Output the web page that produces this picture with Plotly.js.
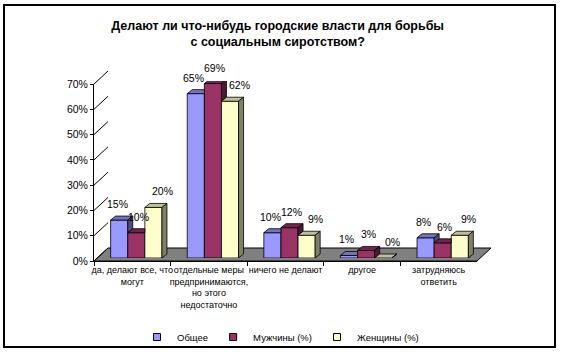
<!DOCTYPE html>
<html><head><meta charset="utf-8">
<script src="https://cdn.plot.ly/plotly-3.0.1.min.js"></script>
<style>html,body{margin:0;padding:0;background:#fff}#chart{width:561px;height:353px}</style>
</head><body><div id="chart"></div>
<script>
// ---- data ----
const categories = ["да, делают все, что<br>могут", "отдельные меры<br>предпринимаются,<br>но этого<br>недостаточно", "ничего не делают", "другое", "затрудняюсь<br>ответить"];
const seriesNames = ["Общее", "Мужчины (%)", "Женщины (%)"];
const totalValues = [15, 65, 10, 1, 8];
const menValues = [10, 69, 12, 3, 6];
const womenValues = [20, 62, 9, 0, 9];
const yTickValues = [0, 10, 20, 30, 40, 50, 60, 70];
const yTickLabels = ["0%", "10%", "20%", "30%", "40%", "50%", "60%", "70%"];
const titleLines = ["Делают ли что-нибудь городские власти для борьбы", "с социальным сиротством?"];

// ---- style / geometry ----
const W = 561, H = 353;
const FONT = '"Liberation Sans", Arial, sans-serif';
const frontColors = ['#9999FF', '#993366', '#FFFFCC'];
const topColors = ['#7373BF', '#73264D', '#BFBF99'];
const sideColors = ['#4D4D80', '#4D1A33', '#808066'];
const YMAX = 70;
const front = {x0: 94, x1: 477, y0: 261, y1: 84};
const wallShift = {dx: 14, dy: -13};
const barShift = {dx: 4, dy: -3};
const depth = {dx: 5, dy: 4};
const BARGAP = 0.33;
const px = v => v / W, py = v => 1 - v / H;
const shifted = s => ({x0: front.x0 + s.dx, x1: front.x1 + s.dx, y0: front.y0 + s.dy, y1: front.y1 + s.dy});
const back = shifted(wallShift), plane = shifted(barShift);
const nCat = categories.length;
const xr = [-0.5, nCat - 0.5];
const pxPerCat = (plane.x1 - plane.x0) / nCat;
const pxPerUnit = (plane.y0 - plane.y1) / YMAX;
const dX = depth.dx / pxPerCat, dY = depth.dy / pxPerUnit;

const series = [totalValues, menValues, womenValues];
const idx = categories.map((c, i) => i);

const traces = [];
traces.push({x: categories, y: categories.map(() => null), xaxis: 'x', yaxis: 'y', type: 'scatter', mode: 'markers',
  marker: {opacity: 0}, showlegend: false, hoverinfo: 'skip'});
series.forEach((vals, j) => {
  traces.push({type: 'bar', x: idx, y: vals, name: seriesNames[j], xaxis: 'x3', yaxis: 'y3',
    marker: {color: frontColors[j], line: {color: '#000', width: 0.8}}, showlegend: false, hoverinfo: 'skip'});
});
series.forEach((vals, j) => {
  traces.push({type: 'scatter', x: [null], y: [null], name: seriesNames[j], xaxis: 'x3', yaxis: 'y3', mode: 'markers',
    marker: {symbol: 'square', size: 7, color: frontColors[j], line: {color: '#000', width: 1}}, hoverinfo: 'skip'});
});

const shapes = [];
const f = front, b = back;
shapes.push({type: 'path', xref: 'paper', yref: 'paper', layer: 'below',
  path: `M${px(f.x0)},${py(f.y0)} L${px(f.x1)},${py(f.y0)} L${px(b.x1)},${py(b.y0)} L${px(b.x0)},${py(b.y0)} Z`,
  fillcolor: '#808080', line: {color: '#000', width: 1}});
yTickValues.forEach(t => {
  const fy = f.y0 - t * (f.y0 - f.y1) / YMAX;
  shapes.push({type: 'line', xref: 'paper', yref: 'paper', layer: 'below',
    x0: px(f.x0), y0: py(fy), x1: px(b.x0), y1: py(fy + wallShift.dy), line: {color: '#000', width: 1}});
});
const w = (1 - BARGAP) / 3;
const annotations = [];
const labelShift = [-2, 2, 9];
idx.forEach(i => {
  series.forEach((vals, j) => {
    const v = vals[i];
    const xl = i - 1.5 * w + j * w, xR = xl + w;
    const next = j < 2 ? series[j + 1][i] : null;
    const coveredTop = next !== null && next > v;
    shapes.push({type: 'path', xref: 'x3', yref: 'y3', layer: 'above',
      path: coveredTop
        ? `M${xl},${v} L${xR},${v} L${xR},${v + dY} L${xl + dX},${v + dY} Z`
        : `M${xl},${v} L${xR},${v} L${xR + dX},${v + dY} L${xl + dX},${v + dY} Z`,
      fillcolor: topColors[j], line: {color: '#000', width: 0.8}});
    if (!coveredTop) {
      const base = next === null ? 0 : Math.max(next, 0);
      if (v > base || next === null) {
        shapes.push({type: 'path', xref: 'x3', yref: 'y3', layer: 'above',
          path: `M${xR},${base} L${xR},${v} L${xR + dX},${v + dY} L${xR + dX},${base + dY} Z`,
          fillcolor: sideColors[j], line: {color: '#000', width: 0.8}});
      }
    }
    annotations.push({x: (xl + xR) / 2, y: v, xref: 'x3', yref: 'y3', text: v + '%', showarrow: false,
      xanchor: 'center', yanchor: 'middle', yshift: 16, xshift: labelShift[j],
      font: {family: FONT, size: 10.5, color: '#000'}});
  });
});
shapes.push({type: 'rect', xref: 'paper', yref: 'paper', layer: 'above',
  x0: px(4), x1: px(555), y0: py(5), y1: py(347), line: {color: '#000', width: 2}, fillcolor: 'rgba(0,0,0,0)'});

const layout = {
  width: W, height: H,
  margin: {l: 0, r: 0, t: 0, b: 0},
  paper_bgcolor: '#fff', plot_bgcolor: 'rgba(0,0,0,0)',
  font: {family: FONT, size: 10, color: '#000'},
  title: {text: '<b>' + titleLines[0] + '</b><br><b>' + titleLines[1] + '</b>', x: 0.495, xanchor: 'center', y: py(30), yanchor: 'top',
    font: {family: FONT, size: 12.5, color: '#000'}},
  barmode: 'group', bargap: BARGAP, bargroupgap: 0,
  xaxis: {type: 'category', domain: [px(f.x0), px(f.x1)], anchor: 'y', range: xr,
    categoryorder: 'array', categoryarray: categories, tickangle: 0,
    showline: true, linecolor: '#000', linewidth: 1, ticks: 'outside', tickson: 'boundaries', ticklen: 4, tickcolor: '#000',
    showgrid: false, zeroline: false, tickfont: {family: FONT, size: 9}, fixedrange: true},
  yaxis: {domain: [py(f.y0), py(f.y1)], anchor: 'x', range: [0, YMAX], tickvals: yTickValues, ticktext: yTickLabels,
    ticks: 'outside', ticklen: 3, tickcolor: '#000', showline: true, linecolor: '#000', linewidth: 1,
    showgrid: false, zeroline: false, tickfont: {family: FONT, size: 10.5}, fixedrange: true},
  xaxis2: {domain: [px(b.x0), px(b.x1)], anchor: 'y2', range: xr, showgrid: false, zeroline: false, showticklabels: false, ticks: '', showline: false},
  yaxis2: {domain: [py(b.y0), py(b.y1)], anchor: 'x2', range: [0, YMAX], tickvals: yTickValues, showgrid: true, gridcolor: '#000', gridwidth: 1,
    zeroline: false, showticklabels: false, ticks: '', showline: false},
  xaxis3: {domain: [px(plane.x0), px(plane.x1)], anchor: 'y3', range: xr, showgrid: false, zeroline: false, showticklabels: false, ticks: '', showline: false},
  yaxis3: {domain: [py(plane.y0), py(plane.y1)], anchor: 'x3', range: [0, YMAX], showgrid: false, zeroline: false, showticklabels: false, ticks: '', showline: false},
  showlegend: true,
  legend: {orientation: 'h', x: 0.5, xanchor: 'center', y: py(337), yanchor: 'middle', font: {family: FONT, size: 9.5},
    bgcolor: 'rgba(0,0,0,0)', itemwidth: 30, tracegroupgap: 0},
  shapes: shapes,
  annotations: annotations
};
Plotly.newPlot('chart', traces, layout, {displayModeBar: false, staticPlot: true});
</script></body></html>
